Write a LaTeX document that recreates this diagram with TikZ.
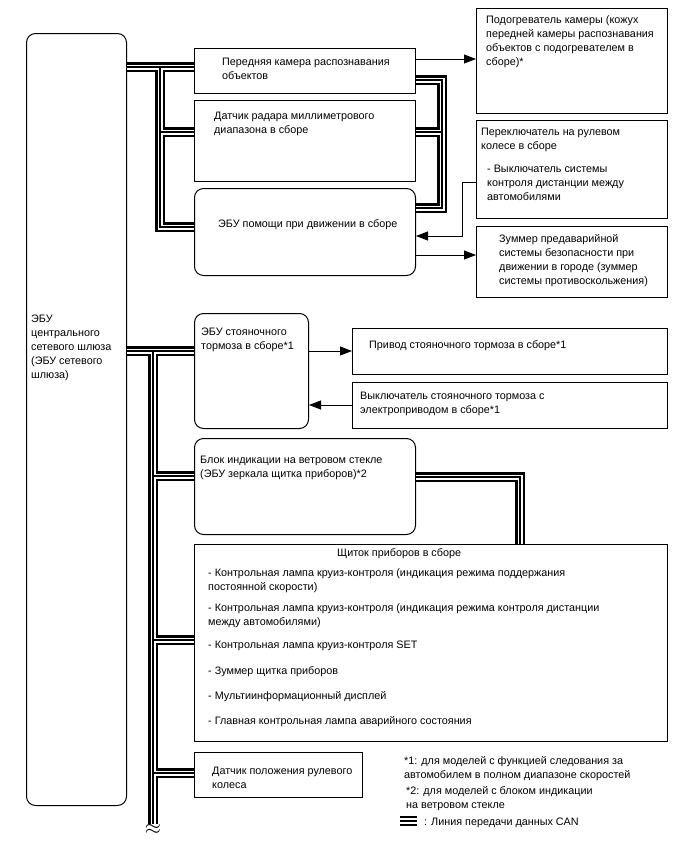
\documentclass[tikz,border=0pt]{standalone}
\usepackage{fontspec}
\setmainfont{Liberation Sans}
\usetikzlibrary{arrows.meta}

\tikzset{
  blok/.style={draw, line width=1pt, inner sep=0pt, anchor=north west},
  rblok/.style={blok, rounded corners=9pt},
  txt/.style={inner sep=0pt, anchor=north west, align=left, yshift=-1.5pt,
    font=\fontsize{10.8}{14}\selectfont},
  can/.style={line width=10pt, line join=miter,
    postaction={draw=white, line width=5pt},
    postaction={draw=black, line width=1.8pt}},
  sig/.style={line width=0.8pt, -{Triangle[length=12pt, width=9pt]}},
}

\begin{document}
\begin{tikzpicture}[x=1pt, y=-1pt]
        \useasboundingbox (0,0) rectangle (688,852);

        % Paso 1: Define los bloques
        \node[rblok, minimum width=100pt, minimum height=772pt] (gw) at (26,33) {};
        \node[blok, minimum width=221pt, minimum height=45pt] (cam) at (194,48) {};
        \node[blok, minimum width=221pt, minimum height=81pt] (radar) at (194,100) {};
        \node[rblok, minimum width=221pt, minimum height=87pt] (asst) at (194,188) {};
        \node[blok, minimum width=191pt, minimum height=105pt] (heat) at (476,8) {};
        \node[blok, minimum width=191pt, minimum height=98pt] (swh) at (476,120) {};
        \node[blok, minimum width=191pt, minimum height=71pt] (buzz) at (476,226) {};
        \node[rblok, minimum width=114pt, minimum height=115pt] (pkecu) at (194,313) {};
        \node[blok, minimum width=315pt, minimum height=46pt] (pkact) at (352,328) {};
        \node[blok, minimum width=315pt, minimum height=46pt] (pksw) at (352,382) {};
        \node[rblok, minimum width=221pt, minimum height=96pt] (hud) at (194,438) {};
        \node[blok, minimum width=473pt, minimum height=197pt] (meter) at (194,544) {};
        \node[blok, minimum width=168pt, minimum height=45pt] (sens) at (194,752) {};

        % Paso 2: Textos de los bloques
        \node[txt] (gw-t) at (31,313) {ЭБУ\\центрального\\сетевого шлюза\\(ЭБУ сетевого\\шлюза)};
        \node[txt] (cam-t) at (222,56) {Передняя камера распознавания\\объектов};
        \node[txt] (radar-t) at (214,110) {Датчик радара миллиметрового\\диапазона в сборе};
        \node[txt] (asst-t) at (218,218) {ЭБУ помощи при движении в сборе};
        \node[txt] (heat-t) at (486,14) {Подогреватель камеры (кожух\\передней камеры распознавания\\объектов с подогревателем в\\сборе)*};
        \node[txt] (swh-t) at (481,126) {Переключатель на рулевом\\колесе в сборе};
        \node[txt] (swh-s) at (487,163) {- Выключатель системы\\контроля дистанции между\\автомобилями};
        \node[txt] (buzz-t) at (499,233) {Зуммер предаварийной\\системы безопасности при\\движении в городе (зуммер\\системы противоскольжения)};
        \node[txt] (pkecu-t) at (201,326) {ЭБУ стояночного\\тормоза в сборе*1};
        \node[txt] (pkact-t) at (369,339) {Привод стояночного тормоза в сборе*1};
        \node[txt] (pksw-t) at (360,390) {Выключатель стояночного тормоза с\\электроприводом в сборе*1};
        \node[txt] (hud-t) at (200,454) {Блок индикации на ветровом стекле\\(ЭБУ зеркала щитка приборов)*2};
        \node[txt] (meter-t) at (337,547) {Щиток приборов в сборе};
        \foreach \y/\t [count=\i] in {
            567/{- Контрольная лампа круиз-контроля (индикация режима поддержания\\постоянной скорости)},
            602/{- Контрольная лампа круиз-контроля (индикация режима контроля дистанции\\между автомобилями)},
            639/{- Контрольная лампа круиз-контроля SET},
            665/{- Зуммер щитка приборов},
            690/{- Мультиинформационный дисплей},
            715/{- Главная контрольная лампа аварийного состояния}}
          \node[txt] (item-\i) at (208,\y) {\t};
        \node[txt] (sens-t) at (212,765) {Датчик положения рулевого\\колеса};

        % Paso 3: Notas y leyenda
        \node[txt] (note1) at (404,755) {*1: для моделей с функцией следования за\\автомобилем в полном диапазоне скоростей};
        \node[txt] (note2) at (406,785) {*2: для моделей с блоком индикации\\на ветровом стекле};
        \foreach \dy in {-4,0,4}
          \draw[line width=2.6pt] (400,821+\dy) -- (417,821+\dy);
        \node[txt] (leg-t) at (424,816) {: Линия передачи данных CAN};

        % Paso 4: Lineas CAN
        \draw[can] (gw.east |- 0,67) -- (cam.west |- 0,67)
          (160,67) -- (160,227) -- (asst.west |- 0,227)
          (160,132) -- (radar.west |- 0,132);
        \draw[can] (cam.east |- 0,80) -- (442,80) -- (442,208) -- (asst.east |- 0,208)
          (442,132) -- (radar.east |- 0,132);
        \coordinate (brk) at (153,824);
        \draw[can] (gw.east |- 0,351) -- (pkecu.west |- 0,351)
          (153,351) -- (brk)
          (153,476) -- (hud.west |- 0,476)
          (153,640) -- (meter.west |- 0,640)
          (153,773) -- (sens.west |- 0,773);
        \draw[can] (hud.east |- 0,477) -- (520,477) -- (520,0 |- meter.north);
        \node[font=\huge, inner sep=0pt, below=0pt] (brk-s) at (brk) {$\approx$};

        % Paso 5: Señales con flecha
        \draw[sig] (cam.east |- 0,59) -- (heat.west |- 0,59);
        \draw[sig] (swh.west |- 0,182) -| (462,236) -- (asst.east |- 0,236);
        \draw[sig] (asst.east |- 0,255) -- (buzz.west |- 0,255);
        \draw[sig] (pkecu.east |- 0,351) -- (pkact.west |- 0,351);
        \draw[sig] (pksw.west |- 0,405) -- (pkecu.east |- 0,405);
\end{tikzpicture}
\end{document}
